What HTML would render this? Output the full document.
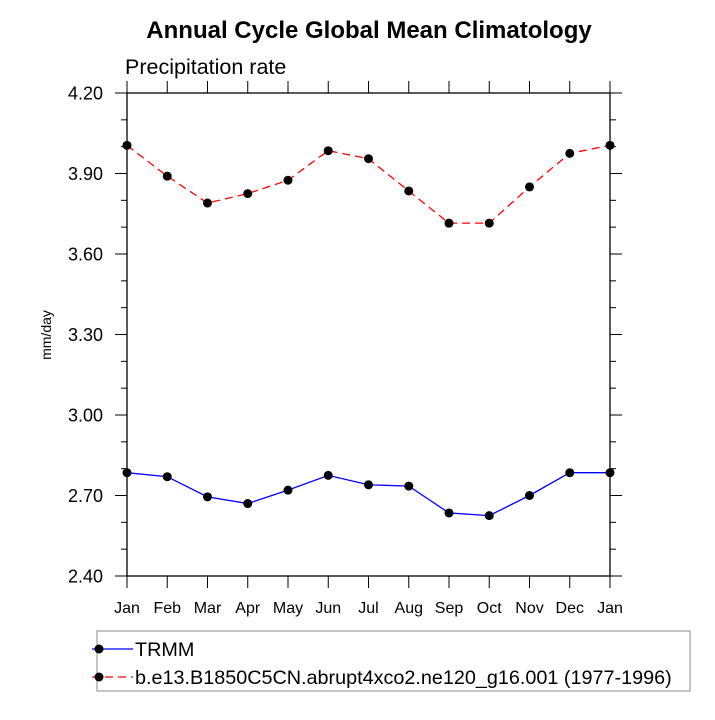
<!DOCTYPE html>
<html><head><meta charset="utf-8"><style>
body{margin:0;background:#fff}
svg text{font-family:"Liberation Sans",sans-serif}
</style></head><body>
<svg width="715" height="715" viewBox="0 0 715 715">
<text x="369" y="38" text-anchor="middle" font-size="24" font-weight="bold">Annual Cycle Global Mean Climatology</text>
<text x="125" y="74" font-size="21.5">Precipitation rate</text>
<text transform="translate(51,335) rotate(-90)" text-anchor="middle" font-size="14">mm/day</text>
<g id="axes"></g>
<g id="series"></g>
<rect x="97" y="631" width="593" height="60" fill="none" stroke="#888" stroke-width="1"/>
<g>
<line x1="92" y1="649" x2="133" y2="649" stroke="#00f" stroke-width="1.3"/>
<circle cx="99" cy="649" r="4.5" fill="#000"/>
<text x="135" y="656" font-size="19.8">TRMM</text>
</g>
<g>
<line x1="92" y1="677" x2="133" y2="677" stroke="#f00" stroke-width="1.3" stroke-dasharray="8,5"/>
<circle cx="99" cy="677" r="4.5" fill="#000"/>
<text x="135" y="684" font-size="19.8">b.e13.B1850C5CN.abrupt4xco2.ne120_g16.001 (1977-1996)</text>
</g>
</svg>
<script>
const months=["Jan","Feb","Mar","Apr","May","Jun","Jul","Aug","Sep","Oct","Nov","Dec","Jan"];
const trmm=[2.785,2.77,2.695,2.67,2.72,2.775,2.74,2.735,2.635,2.625,2.70,2.785,2.785];
const model=[4.005,3.89,3.79,3.825,3.875,3.985,3.955,3.835,3.715,3.715,3.85,3.975,4.005];
const yTicks=["2.40","2.70","3.00","3.30","3.60","3.90","4.20"];
const NS="http://www.w3.org/2000/svg";
const L=127,R=610,T=93,B=576,ymin=2.4,ymax=4.2;
const xs=i=>L+(R-L)*i/(months.length-1);
const ys=v=>B-(v-ymin)/(ymax-ymin)*(B-T);
function mk(tag,at,parent){const e=document.createElementNS(NS,tag);for(const k in at)e.setAttribute(k,at[k]);parent.appendChild(e);return e;}
const ax=document.getElementById('axes');
const fr=mk('rect',{x:L,y:T,width:R-L,height:B-T,fill:'none',stroke:'#000','stroke-width':1.3},ax);


months.forEach((m,i)=>{const x=xs(i);
mk('line',{x1:x,y1:B,x2:x,y2:B+12,stroke:'#000'},ax);
mk('line',{x1:x,y1:T,x2:x,y2:T-12,stroke:'#000'},ax);
const t=mk('text',{x:x,y:613,'text-anchor':'middle','font-size':16},ax);t.textContent=m;


});
for(let v=ymin;v<=ymax+1e-6;v+=0.1){const y=ys(v);const major=Math.abs(Math.round(v*10)%3)===0;const len=major?12:6;
mk('line',{x1:L-len,y1:y,x2:L,y2:y,stroke:'#000'},ax);
mk('line',{x1:R,y1:y,x2:R+len,y2:y,stroke:'#000'},ax);}
yTicks.forEach(s=>{const t=mk('text',{x:103,y:ys(parseFloat(s))+6.5,'text-anchor':'end','font-size':18},ax);t.textContent=s;


});
const sg=document.getElementById('series');
function draw(data,color,dash,name){
const pts=data.map((v,i)=>xs(i)+','+ys(v)).join(' ');
const pl=mk('polyline',{points:pts,fill:'none',stroke:color,'stroke-width':1.3,'stroke-dasharray':dash},sg);


data.forEach((v,i)=>{const c=mk('circle',{cx:xs(i),cy:ys(v),r:4.5,fill:'#000'},sg);

});
}
draw(model,'#f00','8,5','model');
draw(trmm,'#00f','none','trmm');
</script>
</body></html>
